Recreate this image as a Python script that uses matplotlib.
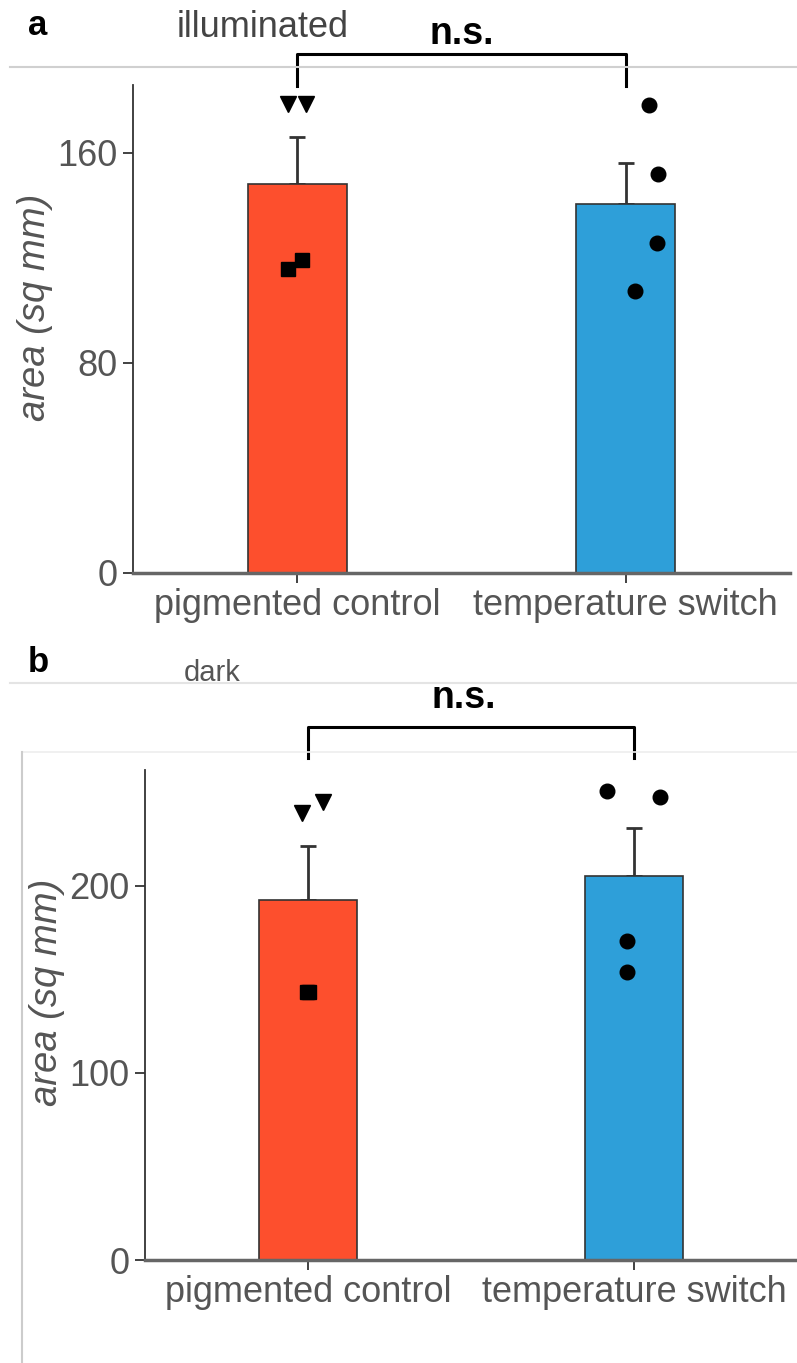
import matplotlib
matplotlib.use("Agg")
import matplotlib.pyplot as plt
import numpy as np
from matplotlib.lines import Line2D

plt.rcParams['font.family'] = ['Liberation Sans', 'DejaVu Sans']

categories = ["pigmented control", "temperature switch"]
bar_colors = ["#FD4F2D", "#2E9FD9"]

# panel a: illuminated
a_means = [148.2, 140.6]
a_sem = [17.9, 15.6]
a_ctrl_tri = [178.7, 178.7]
a_ctrl_sq = [115.8, 119.2]
a_switch_dots = [178.3, 152.0, 125.7, 107.4]
a_ticks = [0, 80, 160]

# panel b: dark
b_means = [192.5, 205.3]
b_sem = [28.9, 25.7]
b_ctrl_tri = [239.0, 244.9]
b_ctrl_sq = [143.3, 143.3]
b_switch_dots = [250.8, 247.6, 170.6, 154.0]
b_ticks = [0, 100, 200]

# horizontal jitter of the individual points
a_tri_dx = [-0.027, 0.027]
a_sq_dx = [-0.027, 0.015]
a_dot_dx = [0.07, 0.098, 0.095, 0.027]
b_tri_dx = [-0.018, 0.046]
b_sq_dx = [-0.003, 0.003]
b_dot_dx = [-0.083, 0.08, -0.02, -0.02]

W, H = 797, 1363
fig = plt.figure(figsize=(W / 100, H / 100), dpi=100)


def fx(x):
    return x / W


def fy(y):
    return 1 - y / H


def make_panel(rect, means, sem, tri, sq, dots, tri_dx, sq_dx, dot_dx, ticks, ytop, ylab_x, ylab_y):
    ax = fig.add_axes(rect)
    x = np.arange(len(categories))
    ax.bar(x, means, width=0.3, color=bar_colors, edgecolor="#333333", linewidth=1.2, zorder=2)
    ax.errorbar(x, means, yerr=[np.zeros(len(sem)), sem], fmt='none', ecolor="#333333",
                elinewidth=2, capsize=5.8, capthick=2, zorder=1)
    ax.plot(0 + np.array(tri_dx), tri, linestyle='none', marker='v', color='black', markersize=11, zorder=3)
    ax.plot(0 + np.array(sq_dx), sq, linestyle='none', marker='s', color='black', markersize=9.5, zorder=3)
    ax.plot(1 + np.array(dot_dx), dots, linestyle='none', marker='o', color='black', markersize=10.5, zorder=3)
    ax.set_xlim(-0.5, 1.5)
    ax.set_ylim(0, ytop)
    ax.set_xticks(x)
    ax.set_xticklabels(categories)
    ax.set_yticks(ticks)
    for s in ['top', 'right']:
        ax.spines[s].set_visible(False)
    ax.spines['left'].set_color('#333333')
    ax.spines['left'].set_linewidth(1.3)
    ax.spines['bottom'].set_color('#666666')
    ax.spines['bottom'].set_linewidth(2.5)
    ax.tick_params(axis='both', labelsize=26, labelcolor='#555555', color='#333333',
                   length=7, width=1.3, direction='out', pad=4)
    ax.set_ylabel("area (sq mm)", fontsize=27.5, color='#555555', style='italic')
    ax.yaxis.set_label_coords(ylab_x, ylab_y)
    return ax


ax_a = make_panel([fx(133), fy(573), 657 / W, (573 - 85) / H], a_means, a_sem, a_ctrl_tri, a_ctrl_sq,
                  a_switch_dots, a_tri_dx, a_sq_dx, a_dot_dx, a_ticks, 185.9, -0.122, 0.545)
ax_b = make_panel([fx(145), fy(1260), 652 / W, (1260 - 770) / H], b_means, b_sem, b_ctrl_tri, b_ctrl_sq,
                  b_switch_dots, b_tri_dx, b_sq_dx, b_dot_dx, b_ticks, 262.0, -0.123, 0.547)

# significance brackets
ax_a.plot([0, 0, 1, 1], [185.5, 197.7, 197.7, 185.5], color='black', linewidth=2.2, clip_on=False)
ax_b.plot([0, 0, 1, 1], [268.5, 285.0, 285.0, 268.5], color='black', linewidth=2.2, clip_on=False)

# separator lines
fig.add_artist(Line2D([fx(10), 1], [fy(67), fy(67)], color='#d0d0d0', linewidth=1.5))
fig.add_artist(Line2D([fx(10), 1], [fy(683), fy(683)], color='#e4e4e4', linewidth=1.5))
fig.add_artist(Line2D([fx(22), 1], [fy(752), fy(752)], color='#eeeeee', linewidth=1.2))
fig.add_artist(Line2D([fx(22), fx(22)], [fy(752), 0], color='#cccccc', linewidth=1.5))

# texts
fig.text(fx(28), fy(35), "a", fontsize=25, fontweight='bold', color='black', va='baseline', ha='left')
fig.text(fx(263), fy(37), "illuminated", fontsize=26, color='#444444', va='baseline', ha='center')
fig.text(fx(462), fy(44), "n.s.", fontsize=27, fontweight='bold', color='black', va='baseline', ha='center')
fig.text(fx(28), fy(672), "b", fontsize=25, fontweight='bold', color='black', va='baseline', ha='left')
fig.text(fx(212), fy(681), "dark", fontsize=21, color='#555555', va='baseline', ha='center')
fig.text(fx(464), fy(708), "n.s.", fontsize=27, fontweight='bold', color='black', va='baseline', ha='center')

fig.savefig("out.png", dpi=100)
